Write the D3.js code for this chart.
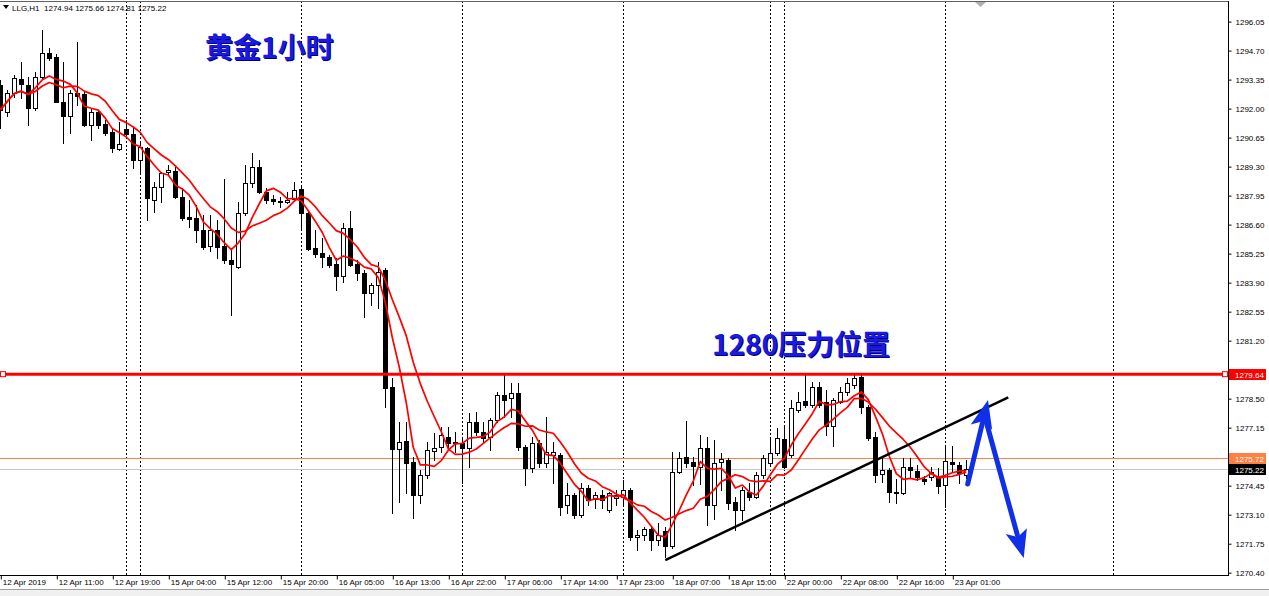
<!DOCTYPE html>
<html><head><meta charset="utf-8">
<script src="https://cdn.jsdelivr.net/npm/d3@7"></script>
<style>
html,body{margin:0;padding:0;background:#fff;}
svg{display:block;}
</style></head><body>
<svg id="c" width="1269" height="596"></svg>
<script>
// ---- data (hourly candles, XAUUSD "LLG,H1") ----
const opens = [1293.10,1291.85,1292.72,1293.38,1293.10,1292.05,1293.49,1294.58,1294.40,1292.33,
1291.67,1292.72,1292.67,1291.24,1291.83,1291.27,1290.90,1290.12,1291.05,1290.81,
1289.61,1290.16,1287.75,1288.34,1289.04,1289.11,1287.90,1286.96,1286.90,1286.35,
1285.61,1286.35,1285.61,1284.96,1284.64,1287.13,1288.53,1289.30,1288.14,1287.80,
1287.70,1287.67,1287.78,1288.25,1287.16,1285.50,1285.27,1285.08,1284.76,1284.21,
1286.43,1284.76,1284.36,1283.43,1283.79,1284.49,1279.03,1276.14,1276.54,1275.57,
1274.02,1274.95,1276.08,1276.26,1276.70,1276.50,1276.42,1276.22,1277.43,1276.96,
1276.73,1277.51,1278.67,1278.52,1278.78,1276.26,1275.26,1276.45,1275.49,1275.88,
1275.88,1273.55,1274.02,1273.08,1274.33,1273.82,1274.02,1273.32,1273.86,1273.94,
1274.25,1272.05,1272.15,1272.42,1271.92,1272.34,1271.64,1275.10,1275.77,1275.55,
1275.32,1276.19,1273.55,1275.57,1275.64,1273.70,1273.32,1274.17,1273.94,1274.95,
1275.49,1275.96,1276.62,1275.88,1277.97,1278.39,1278.21,1279.06,1278.36,1277.23,
1278.36,1278.83,1279.14,1279.52,1278.13,1276.73,1274.99,1275.18,1274.17,1274.12,
1275.30,1275.15,1274.76,1274.87,1274.85,1274.48,1275.57,1275.41,1274.94];
const highs = [1293.34,1292.87,1293.57,1294.19,1293.49,1293.72,1295.66,1294.81,1294.55,1294.16,
1292.87,1295.12,1292.79,1291.99,1291.94,1291.47,1291.09,1291.39,1291.47,1291.09,
1290.39,1290.23,1288.60,1289.07,1289.38,1289.30,1288.29,1287.75,1287.52,1287.05,
1287.05,1286.82,1288.73,1285.47,1287.67,1289.38,1289.92,1289.61,1288.29,1287.98,
1287.90,1288.14,1288.57,1288.37,1287.20,1286.35,1285.97,1285.19,1285.03,1286.66,
1287.25,1284.96,1284.49,1283.90,1284.88,1284.57,1279.45,1277.43,1277.43,1275.80,
1275.18,1276.50,1276.89,1277.20,1277.20,1276.96,1276.73,1277.82,1277.89,1277.43,
1277.59,1278.83,1279.60,1279.22,1279.22,1276.34,1276.73,1276.58,1277.66,1276.50,
1275.96,1274.56,1274.09,1274.56,1274.48,1274.17,1274.25,1274.17,1274.25,1274.71,
1274.33,1272.39,1272.54,1272.54,1272.70,1272.53,1276.03,1276.03,1277.47,1275.80,
1276.81,1276.73,1276.58,1275.97,1275.72,1273.94,1274.40,1274.56,1275.10,1275.88,
1276.65,1277.12,1277.20,1278.44,1278.83,1279.60,1279.29,1279.29,1278.90,1278.52,
1279.06,1279.45,1279.69,1279.60,1278.21,1276.96,1275.74,1275.26,1274.76,1275.72,
1275.72,1275.41,1274.90,1275.32,1275.26,1276.34,1276.30,1275.57,1275.66];
const lows = [1291.10,1291.66,1292.54,1292.50,1291.24,1291.94,1293.43,1294.27,1292.30,1290.39,
1290.85,1292.17,1291.20,1290.54,1291.09,1290.77,1290.00,1290.08,1290.70,1289.23,
1289.07,1286.82,1287.20,1287.67,1288.91,1287.83,1286.82,1286.51,1285.81,1285.47,
1285.37,1285.03,1284.80,1282.39,1284.57,1287.05,1288.37,1288.06,1287.60,1287.56,
1287.44,1287.60,1287.75,1286.43,1285.42,1285.11,1284.64,1284.64,1283.56,1283.94,
1284.68,1284.02,1282.32,1282.86,1282.71,1278.13,1273.16,1273.70,1274.09,1272.93,
1273.63,1274.79,1275.64,1276.03,1276.26,1276.03,1274.56,1275.33,1276.81,1276.42,
1276.11,1277.43,1277.66,1277.66,1276.11,1274.48,1275.10,1275.33,1275.33,1274.56,
1273.08,1273.16,1272.93,1273.00,1273.55,1273.40,1273.40,1273.24,1273.55,1273.55,
1271.92,1271.45,1271.92,1271.45,1271.69,1271.14,1271.53,1275.03,1275.33,1274.48,
1274.53,1272.62,1272.90,1274.25,1273.36,1272.39,1272.85,1273.78,1273.86,1274.79,
1275.41,1275.88,1275.26,1275.80,1277.89,1278.13,1278.13,1278.13,1276.81,1276.30,
1278.30,1278.67,1279.00,1277.83,1276.58,1274.63,1274.62,1273.70,1273.63,1274.06,
1274.87,1274.71,1274.53,1274.71,1274.12,1273.46,1275.10,1274.56,1274.81];
const closes = [1291.94,1292.73,1293.44,1293.14,1292.05,1293.49,1294.58,1294.35,1292.33,1291.66,
1292.72,1292.60,1291.24,1291.86,1291.24,1290.85,1290.16,1290.34,1290.81,1289.61,
1290.23,1287.83,1288.34,1289.00,1289.15,1287.90,1286.92,1286.88,1286.35,1285.57,
1286.35,1285.57,1284.96,1284.76,1287.13,1288.53,1289.30,1288.14,1287.75,1287.72,
1287.64,1287.75,1288.22,1287.16,1285.45,1285.23,1285.11,1284.72,1284.21,1286.43,
1284.72,1284.34,1283.41,1283.79,1284.41,1278.98,1276.14,1276.50,1275.49,1274.02,
1274.95,1276.11,1276.19,1276.81,1276.45,1276.42,1276.22,1277.43,1276.96,1276.65,
1277.51,1278.67,1278.44,1278.75,1276.26,1275.26,1276.45,1275.49,1276.03,1276.03,
1273.47,1274.02,1273.08,1274.33,1273.78,1274.02,1273.78,1274.09,1274.02,1274.25,
1272.07,1272.15,1272.42,1271.92,1272.15,1271.64,1275.10,1275.72,1275.49,1275.37,
1276.19,1273.55,1275.52,1275.68,1273.64,1273.32,1274.25,1273.91,1274.95,1275.72,
1275.96,1276.65,1275.33,1278.05,1278.36,1278.21,1279.06,1278.21,1277.23,1278.44,
1278.83,1279.22,1279.45,1278.13,1276.65,1274.97,1275.18,1274.17,1274.09,1275.33,
1275.18,1274.85,1274.67,1275.09,1274.43,1275.62,1275.46,1275.03,1275.22];

const timeTickBars = [0,8,16,24,32,40,48,56,64,72,80,88,96,104,112,120,128,136];
const timeTickLabels = ["12 Apr 2019","12 Apr 11:00","12 Apr 19:00","15 Apr 04:00","15 Apr 12:00",
  "15 Apr 20:00","16 Apr 05:00","16 Apr 13:00","16 Apr 22:00","17 Apr 06:00","17 Apr 14:00",
  "17 Apr 23:00","18 Apr 07:00","18 Apr 15:00","22 Apr 00:00","22 Apr 08:00","22 Apr 16:00","23 Apr 01:00"];
const priceTicks = [1296.05,1294.70,1293.35,1292.00,1290.65,1289.30,1287.95,1286.60,1285.25,1283.90,
  1282.55,1281.20,1279.85,1278.50,1277.15,1275.80,1274.45,1273.10,1271.75,1270.40];
const separatorBars = [18,20,43,66,89,110,112,135,159];
const resistanceLevel = 1279.64;
const askLevel = 1275.72;
const bidLevel = 1275.22;
const headerSymbol = "LLG,H1";
const headerOHLC = [1274.94,1275.66,1274.81,1275.22];
const trendBars = [95,144];
const trendPrices = [1270.99,1278.56];
const upArrowBars = [138.2,141.1];
const upArrowPrices = [1274.53,1278.44];
const downArrowBars = [140.7,146.2];
const downArrowPrices = [1277.60,1271.08];
const maPeriods = [5,10];
const titleText = "黄金1小时";
const noteText = "1280压力位置";

// ---- layout ----
const W = 1269, H = 596;
const plotRight = 1228, plotTop = 1, plotBottom = 575;
const svg = d3.select("#c");
svg.append("rect").attr("width",W).attr("height",H).attr("fill","#fff");

const x = d3.scaleLinear().domain([0,175]).range([0.3,1225.3]);
const y = d3.scaleLinear().domain([1270.40,1296.05]).range([572.7,21.6]);

svg.append("defs").append("clipPath").attr("id","plot")
  .append("rect").attr("x",0).attr("y",plotTop).attr("width",plotRight).attr("height",plotBottom-plotTop);

const plot = svg.append("g").attr("clip-path","url(#plot)");

// separators
plot.selectAll("line.sep").data(separatorBars).join("line")
  .attr("x1",d=>Math.round(x(d))+0.5).attr("x2",d=>Math.round(x(d))+0.5)
  .attr("y1",plotTop).attr("y2",plotBottom)
  .attr("stroke","#000").attr("stroke-width",1).attr("stroke-dasharray","2,2");

// bid / ask lines
plot.append("line").attr("x1",0).attr("x2",plotRight)
  .attr("y1",Math.round(y(bidLevel))+0.5).attr("y2",Math.round(y(bidLevel))+0.5)
  .attr("stroke","#c8c8c8").attr("stroke-width",1);
plot.append("line").attr("x1",0).attr("x2",plotRight)
  .attr("y1",Math.round(y(askLevel))+0.5).attr("y2",Math.round(y(askLevel))+0.5)
  .attr("stroke","#ff8040").attr("stroke-width",1);

// candles
const bars = d3.range(closes.length).map(i=>({i,o:opens[i],h:highs[i],l:lows[i],c:closes[i]}));
const cg = plot.append("g");
bars.forEach(b=>{
  const cx = Math.round(x(b.i));
  cg.append("line").attr("x1",cx+0.5).attr("x2",cx+0.5)
    .attr("y1",Math.round(y(b.h))).attr("y2",Math.round(y(b.l))+1)
    .attr("stroke","#000").attr("stroke-width",1);
  const yO = Math.round(y(b.o)), yC = Math.round(y(b.c));
  const top = Math.min(yO,yC), bot = Math.max(yO,yC);
  if (b.c < b.o) {
    cg.append("rect").attr("x",cx-2).attr("y",top).attr("width",5).attr("height",Math.max(1,bot-top+1)).attr("fill","#000");
  } else {
    cg.append("rect").attr("x",cx-1.5).attr("y",top+0.5).attr("width",4).attr("height",Math.max(1,bot-top))
      .attr("fill","#fff").attr("stroke","#000").attr("stroke-width",1);
  }
});

// moving averages of closes
const sma = (vals,n)=>vals.map((v,i)=>d3.mean(vals.slice(Math.max(0,i-n+1),i+1)));
const maLine = d3.line().x((d,i)=>x(i)).y(d=>y(d));
maPeriods.forEach(p=>{
  plot.append("path").attr("d",maLine(sma(closes,p))).attr("fill","none")
    .attr("stroke","#ff0000").attr("stroke-width",1.7).attr("stroke-linejoin","round");
});

// resistance line
const yR = y(resistanceLevel);
plot.append("line").attr("x1",0).attr("x2",plotRight).attr("y1",yR).attr("y2",yR)
  .attr("stroke","#ff0000").attr("stroke-width",3);
[3, plotRight-3].forEach(px=>{
  svg.append("rect").attr("x",px-2.5).attr("y",yR-2.5).attr("width",5).attr("height",5)
    .attr("fill","#fff").attr("stroke","#ff0000").attr("stroke-width",1);
});

// trend line
plot.append("line").attr("x1",x(trendBars[0])).attr("y1",y(trendPrices[0]))
  .attr("x2",x(trendBars[1])).attr("y2",y(trendPrices[1]))
  .attr("stroke","#000").attr("stroke-width",2.5);

// blue arrows
function arrow(bx,py){
  const x1=x(bx[0]), y1=y(py[0]), x2=x(bx[1]), y2=y(py[1]);
  const dx=x2-x1, dy=y2-y1, len=Math.hypot(dx,dy), ux=dx/len, uy=dy/len;
  const hl=28, hw=11;
  const bxp=x2-ux*hl, byp=y2-uy*hl;
  plot.append("line").attr("x1",x1).attr("y1",y1).attr("x2",bxp+ux*4).attr("y2",byp+uy*4)
    .attr("stroke","#1030e8").attr("stroke-width",5).attr("stroke-linecap","round");
  plot.append("polygon").attr("points",[[x2,y2],[bxp-uy*hw,byp+ux*hw],[bxp+ux*6,byp+uy*6],[bxp+uy*hw,byp-ux*hw]].map(p=>p.join(",")).join(" "))
    .attr("fill","#1030e8");
}
arrow(upArrowBars,upArrowPrices);
arrow(downArrowBars,downArrowPrices);

// annotation texts
const cjk = "'Noto Sans CJK SC','Noto Sans',sans-serif";
[[titleText,205,58],[noteText,712,355]].forEach(([t,tx,ty])=>{
  svg.append("text").attr("x",tx+1).attr("y",ty+1).text(t)
    .attr("font-family",cjk).attr("font-weight","bold").attr("font-size",28).attr("fill","#000070");
  svg.append("text").attr("x",tx).attr("y",ty).text(t)
    .attr("font-family",cjk).attr("font-weight","bold").attr("font-size",28).attr("fill","#1a1ae0");
});

// frame
svg.append("line").attr("x1",0).attr("x2",plotRight+0.5).attr("y1",plotTop+0.5).attr("y2",plotTop+0.5).attr("stroke","#606060");
svg.append("line").attr("x1",plotRight+0.5).attr("x2",plotRight+0.5).attr("y1",plotTop).attr("y2",plotBottom+1).attr("stroke","#000");
svg.append("line").attr("x1",0).attr("x2",plotRight+1).attr("y1",plotBottom+0.5).attr("y2",plotBottom+0.5).attr("stroke","#000");

const lab = "'Liberation Sans',Arial,sans-serif";
const tagLevels = [resistanceLevel, askLevel, bidLevel];
// right price axis (labels hidden where a price tag covers them, as in the terminal)
const ya = svg.append("g").attr("transform",`translate(${plotRight+0.5},0)`)
  .call(d3.axisRight(y).tickValues(priceTicks).tickSize(3).tickPadding(4).tickFormat(d3.format(".2f")));
ya.select(".domain").remove();
ya.selectAll("line").attr("stroke","#000");
ya.selectAll("text").attr("font-family",lab).attr("font-size",8).attr("fill","#000");
ya.selectAll(".tick").filter(d=>tagLevels.some(t=>Math.abs(y(t)-y(d))<11)).select("text").remove();

// bottom time axis
const xa = svg.append("g").attr("transform",`translate(0,${plotBottom+0.5})`)
  .call(d3.axisBottom(x).tickValues(timeTickBars).tickSize(4).tickFormat((d,i)=>timeTickLabels[i]));
xa.select(".domain").remove();
xa.selectAll("line").attr("stroke","#000").attr("transform","translate(0.5,0)");
xa.selectAll("text").attr("font-family",lab).attr("font-size",8).attr("fill","#000")
  .attr("text-anchor","start").attr("x",2).attr("y",4);

// price labels on axis
function priceTag(v,bg,fg){
  const yy=Math.round(y(v));
  svg.append("rect").attr("x",plotRight+1).attr("y",yy-5).attr("width",37).attr("height",11).attr("fill",bg);
  svg.append("text").attr("x",plotRight+7).attr("y",yy+3.5).text(d3.format(".2f")(v))
    .attr("font-family",lab).attr("font-size",8).attr("fill",fg);
}
priceTag(resistanceLevel,"#ff0000","#fff");
priceTag(askLevel,"#ff8040","#fff");
priceTag(bidLevel,"#000","#fff");

// header
svg.append("path").attr("d","M3,5 L9,5 L6,9 Z").attr("fill","#000");
svg.append("text").attr("x",12).attr("y",11).attr("xml:space","preserve")
  .text(headerSymbol+"  "+headerOHLC.map(d3.format(".2f")).join(" "))
  .attr("font-family",lab).attr("font-size",8).attr("fill","#000");

// shift marker
svg.append("path").attr("d","M975,2 L986,2 L980.5,7 Z").attr("fill","#b0b0b0");

// bottom strip
svg.append("rect").attr("x",0).attr("y",589).attr("width",W).attr("height",7).attr("fill","#f0f0f0");
svg.append("line").attr("x1",0).attr("x2",W).attr("y1",589.5).attr("y2",589.5).attr("stroke","#a0a0a0");
</script>
</body></html>
